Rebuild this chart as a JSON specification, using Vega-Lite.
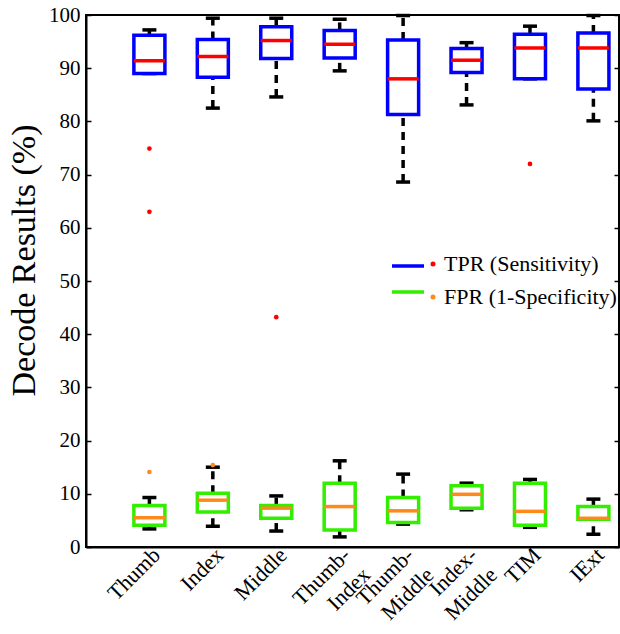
{
  "$schema": "https://vega.github.io/schema/vega-lite/v6.json",
  "width": 533,
  "height": 532,
  "autosize": {"type": "none"},
  "padding": {"left": 86, "top": 15, "right": 1, "bottom": 87},
  "background": "white",
  "config": {
    "font": "Liberation Serif",
    "view": {"stroke": "black", "strokeWidth": 2},
    "axis": {"grid": false, "domainColor": "black", "domainWidth": 2, "tickColor": "black", "tickWidth": 1.5, "labelColor": "black", "titleColor": "black", "labelFont": "Liberation Serif", "titleFont": "Liberation Serif"},
    "legend": {"labelFont": "Liberation Serif"}
  },
  "datasets": {
    "boxes": [
      {"cat": "Thumb", "rate": "TPR (Sensitivity)", "series": "TPR", "lower": 89.0, "q1": 89.0, "median": 91.4, "q3": 96.2, "upper": 97.2},
      {"cat": "Index", "rate": "TPR (Sensitivity)", "series": "TPR", "lower": 82.5, "q1": 88.3, "median": 92.2, "q3": 95.4, "upper": 99.4},
      {"cat": "Middle", "rate": "TPR (Sensitivity)", "series": "TPR", "lower": 84.6, "q1": 91.8, "median": 95.2, "q3": 97.8, "upper": 99.4},
      {"cat": "Thumb-Index", "rate": "TPR (Sensitivity)", "series": "TPR", "lower": 89.5, "q1": 91.9, "median": 94.5, "q3": 97.1, "upper": 99.2},
      {"cat": "Thumb-Middle", "rate": "TPR (Sensitivity)", "series": "TPR", "lower": 68.6, "q1": 81.3, "median": 88.0, "q3": 95.3, "upper": 99.9},
      {"cat": "Index-Middle", "rate": "TPR (Sensitivity)", "series": "TPR", "lower": 83.1, "q1": 89.2, "median": 91.5, "q3": 93.7, "upper": 94.8},
      {"cat": "TIM", "rate": "TPR (Sensitivity)", "series": "TPR", "lower": 88.0, "q1": 88.0, "median": 93.8, "q3": 96.4, "upper": 97.9},
      {"cat": "IExt", "rate": "TPR (Sensitivity)", "series": "TPR", "lower": 80.1, "q1": 86.1, "median": 93.8, "q3": 96.6, "upper": 99.9},
      {"cat": "Thumb", "rate": "FPR (1-Specificity)", "series": "FPR", "lower": 3.4, "q1": 4.1, "median": 5.5, "q3": 7.8, "upper": 9.3},
      {"cat": "Index", "rate": "FPR (1-Specificity)", "series": "FPR", "lower": 3.9, "q1": 6.6, "median": 8.8, "q3": 10.1, "upper": 15.0},
      {"cat": "Middle", "rate": "FPR (1-Specificity)", "series": "FPR", "lower": 3.0, "q1": 5.4, "median": 7.3, "q3": 7.8, "upper": 9.6},
      {"cat": "Thumb-Index", "rate": "FPR (1-Specificity)", "series": "FPR", "lower": 1.9, "q1": 3.2, "median": 7.6, "q3": 12.0, "upper": 16.2},
      {"cat": "Thumb-Middle", "rate": "FPR (1-Specificity)", "series": "FPR", "lower": 4.3, "q1": 4.6, "median": 6.8, "q3": 9.3, "upper": 13.7},
      {"cat": "Index-Middle", "rate": "FPR (1-Specificity)", "series": "FPR", "lower": 7.0, "q1": 7.3, "median": 9.9, "q3": 11.5, "upper": 12.0},
      {"cat": "TIM", "rate": "FPR (1-Specificity)", "series": "FPR", "lower": 3.7, "q1": 4.1, "median": 6.7, "q3": 12.0, "upper": 12.7},
      {"cat": "IExt", "rate": "FPR (1-Specificity)", "series": "FPR", "lower": 2.4, "q1": 5.2, "median": 5.4, "q3": 7.6, "upper": 9.0}
    ],
    "outliers": [
      {"cat": "Thumb", "rate": "TPR (Sensitivity)", "value": 74.9},
      {"cat": "Thumb", "rate": "TPR (Sensitivity)", "value": 63.0},
      {"cat": "Middle", "rate": "TPR (Sensitivity)", "value": 43.2},
      {"cat": "TIM", "rate": "TPR (Sensitivity)", "value": 72.0},
      {"cat": "Thumb", "rate": "FPR (1-Specificity)", "value": 14.1},
      {"cat": "Index", "rate": "FPR (1-Specificity)", "value": 15.4}
    ]
  },
  "encoding": {
    "x": {
      "field": "cat",
      "type": "nominal",
      "sort": ["Thumb", "Index", "Middle", "Thumb-Index", "Thumb-Middle", "Index-Middle", "TIM", "IExt"],
      "scale": {"type": "band", "domain": ["Thumb", "Index", "Middle", "Thumb-Index", "Thumb-Middle", "Index-Middle", "TIM", "IExt"], "paddingInner": 0.511, "paddingOuter": 0.457, "align": 0.826},
      "axis": {
        "title": null,
        "ticks": false,
        "labelAngle": -45,
        "labelAlign": "right",
        "labelBaseline": "top",
        "labelFontSize": 22,
        "labelPadding": -3,
        "labelOffset": 0,
        "labelLineHeight": 28,
        "labelExpr": "indexof(datum.label,'-') > 0 ? [slice(datum.label,0,indexof(datum.label,'-')+1), slice(datum.label,indexof(datum.label,'-')+1)] : datum.label"
      }
    }
  },
  "layer": [
    {
      "data": {"name": "boxes"},
      "mark": {"type": "rule", "color": "black", "strokeWidth": 3.5, "strokeDash": [8, 6]},
      "encoding": {
        "y": {"field": "q3", "type": "quantitative", "scale": {"domain": [0, 100], "nice": false}, "axis": null},
        "y2": {"field": "upper"}
      }
    },
    {
      "data": {"name": "boxes"},
      "mark": {"type": "rule", "color": "black", "strokeWidth": 3.5, "strokeDash": [8, 6]},
      "encoding": {
        "y": {"field": "lower", "type": "quantitative", "scale": {"domain": [0, 100], "nice": false}, "axis": null},
        "y2": {"field": "q1"}
      }
    },
    {
      "data": {"name": "boxes"},
      "mark": {"type": "tick", "color": "black", "thickness": 3.5, "size": 14, "opacity": 1},
      "encoding": {
        "y": {"field": "upper", "type": "quantitative", "scale": {"domain": [0, 100], "nice": false},
          "axis": {"orient": "right", "labels": false, "title": null, "tickSize": -5, "values": [0, 10, 20, 30, 40, 50, 60, 70, 80, 90, 100]}}
      }
    },
    {
      "data": {"name": "boxes"},
      "mark": {"type": "tick", "color": "black", "thickness": 3.5, "size": 14, "opacity": 1},
      "encoding": {
        "y": {"field": "lower", "type": "quantitative", "scale": {"domain": [0, 100], "nice": false}, "axis": null}
      }
    },
    {
      "data": {"name": "boxes"},
      "mark": {"type": "bar", "fill": "white", "strokeWidth": 3.5},
      "encoding": {
        "y": {"field": "q1", "type": "quantitative", "scale": {"domain": [0, 100], "nice": false},
          "axis": {"title": "Decode Results (%)", "titleFontSize": 34, "titleFontWeight": "normal", "titlePadding": 7, "titleY": 245, "values": [0, 10, 20, 30, 40, 50, 60, 70, 80, 90, 100], "tickSize": -5, "labelPadding": 11, "labelFontSize": 21}},
        "y2": {"field": "q3"},
        "stroke": {
          "field": "series", "type": "nominal",
          "scale": {"domain": ["TPR", "FPR"], "range": ["#0000ff", "#33ee00"]},
          "legend": {"orient": "none", "legendX": 304, "legendY": 233, "title": null, "symbolType": "stroke", "symbolSize": 1024, "symbolStrokeWidth": 3.5, "labelExpr": "''", "rowPadding": 1, "padding": 0, "labelOffset": 0}
        }
      }
    },
    {
      "data": {"name": "boxes"},
      "mark": {"type": "tick", "thickness": 3.5, "size": 31, "opacity": 1},
      "encoding": {
        "y": {"field": "median", "type": "quantitative", "scale": {"domain": [0, 100], "nice": false}, "axis": null},
        "color": {
          "field": "rate", "type": "nominal",
          "scale": {"domain": ["TPR (Sensitivity)", "FPR (1-Specificity)"], "range": ["#ff0000", "#ff8a1c"]},
          "legend": {"orient": "none", "legendX": 336, "legendY": 238, "title": null, "symbolType": "circle", "symbolSize": 25, "labelFontSize": 22, "labelOffset": 0, "rowPadding": 11, "padding": 0, "labelColor": "black", "labelLimit": 300}
        }
      }
    },
    {
      "data": {"name": "outliers"},
      "mark": {"type": "point", "filled": true, "size": 22, "opacity": 1},
      "encoding": {
        "y": {"field": "value", "type": "quantitative", "scale": {"domain": [0, 100], "nice": false}, "axis": null},
        "color": {
          "field": "rate", "type": "nominal",
          "scale": {"domain": ["TPR (Sensitivity)", "FPR (1-Specificity)"], "range": ["#ff0000", "#ff8a1c"]},
          "legend": {"orient": "none", "legendX": 336, "legendY": 238, "title": null, "symbolType": "circle", "symbolSize": 25, "labelFontSize": 22, "labelOffset": 0, "rowPadding": 11, "padding": 0, "labelColor": "black", "labelLimit": 300}
        }
      }
    }
  ],
  "resolve": {"axis": {"y": "independent"}}
}
